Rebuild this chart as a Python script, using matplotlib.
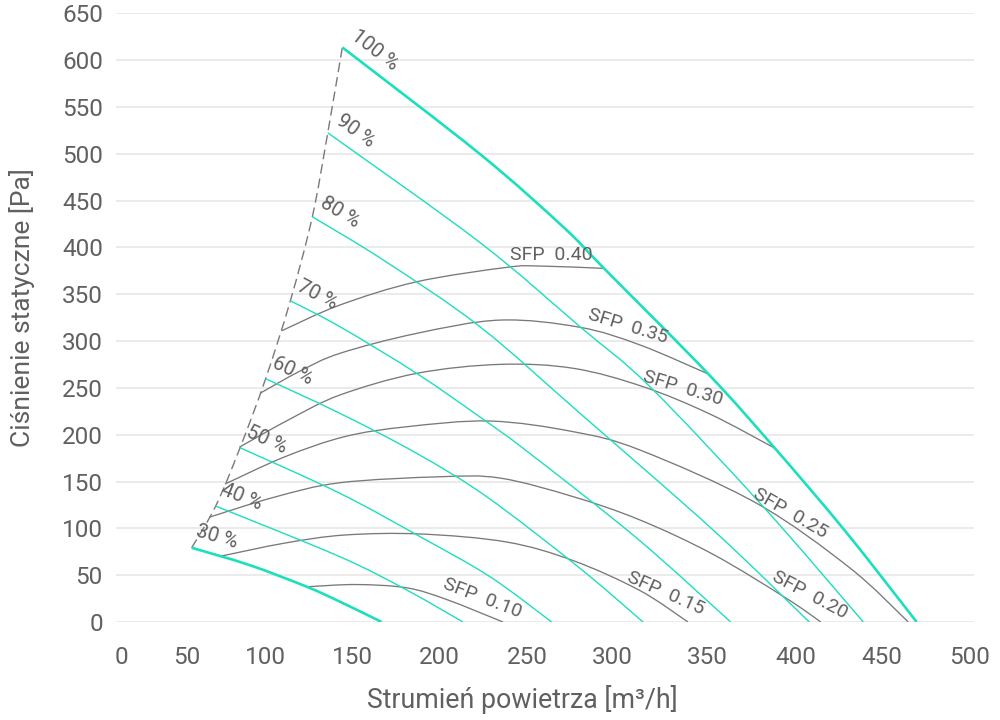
import numpy as np
import matplotlib
matplotlib.use("Agg")
import matplotlib.pyplot as plt
from matplotlib import transforms
from matplotlib.path import Path
from matplotlib.patches import PathPatch

plt.rcParams['font.family'] = ['Roboto', 'DejaVu Sans']
plt.rcParams['lines.scale_dashes'] = False

# ---------------- data ----------------
x_ticks = [0, 50, 100, 150, 200, 250, 300, 350, 400, 450, 500]
y_ticks = [0, 50, 100, 150, 200, 250, 300, 350, 400, 450, 500, 550, 600, 650]

fan_labels = ["30 %", "40 %", "50 %", "60 %", "70 %", "80 %", "90 %", "100 %"]

fan30_q = [44.1, 78.1, 111.1, 130.5, 154.8]
fan30_p = [79.3, 60.6, 37.7, 21.7, 0]
fan40_q = [58.1, 130.5, 169.4, 202.2]
fan40_p = [123.8, 69.7, 34.2, 0]
fan50_q = [72.3, 130.5, 177.2, 217.9, 253.9]
fan50_p = [186.1, 137.4, 91.1, 48.4, 0]
fan60_q = [87.2, 130.5, 175.2, 216.0, 270.4, 307.1]
fan60_p = [259.8, 222.8, 180.1, 133.8, 57.3, 0]
fan70_q = [101.6, 130.5, 175.2, 212.1, 239.3, 303.4, 358.2]
fan70_p = [343.0, 315.3, 265.5, 218.9, 182.6, 89.7, 0]
fan80_q = [114.4, 155.8, 212.1, 270.4, 348.0, 404.0]
fan80_p = [432.7, 386.5, 315.3, 222.8, 98.2, 0]
fan90_q = [123.4, 212.1, 270.4, 311.2, 377.2, 435.5]
fan90_p = [522.4, 405.2, 315.3, 251.2, 123.1, 0]
fan100_q = [131.9, 212.1, 260.7, 284.4, 345.2, 384.0, 425.4, 466.6]
fan100_p = [613.6, 499.7, 421.7, 377.6, 264.8, 185.5, 96.1, 0]

sfp_labels = ["SFP  0.10", "SFP  0.15", "SFP  0.20", "SFP  0.25",
              "SFP  0.30", "SFP  0.35", "SFP  0.40"]

sfp010_q = [112.1, 140.0, 169.4, 192.7, 225.5]
sfp010_p = [37.7, 40.0, 36.5, 24.0, 0]
sfp015_q = [61.6, 98.5, 133.4, 177.2, 227.7, 266.5, 305.4, 333.3]
sfp015_p = [70.5, 84.3, 92.9, 94.0, 85.4, 65.5, 33.5, 0]
sfp020_q = [54.2, 92.7, 130.5, 188.8, 223.8, 266.5, 305.4, 347.9, 390.8, 410.7]
sfp020_p = [111.8, 133.5, 148.7, 155.1, 153.7, 133.8, 108.9, 72.3, 25.1, 0]
sfp025_q = [63.5, 98.5, 133.4, 169.4, 217.9, 266.5, 305.4, 373.4, 427.7, 461.7]
sfp025_p = [147.3, 176.5, 198.0, 208.5, 214.6, 203.2, 183.6, 126.7, 57.7, 0]
sfp030_q = [72.0, 101.4, 130.5, 175.2, 223.8, 266.5, 307.3, 346.2, 384.0]
sfp030_p = [186.8, 216.7, 242.4, 265.5, 275.1, 270.9, 251.2, 222.0, 185.5]
sfp035_q = [83.9, 107.2, 130.5, 175.2, 223.8, 270.4, 305.4, 345.2]
sfp035_p = [244.2, 267.9, 286.9, 308.2, 322.4, 314.7, 295.8, 264.8]
sfp040_q = [96.6, 130.5, 175.2, 227.7, 247.1, 284.4]
sfp040_p = [311.0, 338.5, 363.3, 378.7, 380.1, 377.6]

# label anchor points (data units) and text angles for SFP labels
sfp_label_q = [213.6, 320.5, 404.4, 392.8, 330.4, 298.5, 253.9]
sfp_label_p = [25.6, 31.0, 28.8, 116.4, 249.8, 315.3, 392.4]
sfp_label_rot = [-21, -24, -28, -30, -17, -17, 0]

# ---------------- style ----------------
TEAL = '#1cdfbb'
GRAY = '#797979'
TEXT = '#606060'
GRID = '#e9e9e9'


def smooth_path(q, p):
    """Catmull-Rom spline through the points, rendered as cubic Bezier path."""
    pts = np.column_stack([q, p]).astype(float)
    ext = np.vstack([pts[0], pts, pts[-1]])
    verts = [pts[0]]
    codes = [Path.MOVETO]
    for i in range(1, len(ext) - 2):
        p0, p1, p2, p3 = ext[i - 1], ext[i], ext[i + 1], ext[i + 2]
        verts += [p1 + (p2 - p0) / 6.0, p2 - (p3 - p1) / 6.0, p2]
        codes += [Path.CURVE4] * 3
    return Path(np.array(verts), codes)


def draw_curve(ax, q, p, **kw):
    patch = PathPatch(smooth_path(q, p), fill=False, capstyle='butt', **kw)
    ax.add_patch(patch)
    return patch


fig = plt.figure(figsize=(10, 7.2), dpi=100)
ax = fig.add_axes([0.116, 98 / 720, 0.858, 608.7 / 720])
ax.set_xlim(0, 500)
ax.set_ylim(0, 650)
for s in ax.spines.values():
    s.set_visible(False)
ax.set_xticks(x_ticks)
ax.set_yticks(y_ticks)
ax.tick_params(axis='both', length=0)
ax.tick_params(axis='y', labelsize=17.5, labelcolor=TEXT, pad=9.5)
ax.tick_params(axis='x', labelbottom=False)
ax.grid(axis='y', color=GRID, lw=1.3)
ax.grid(axis='x', visible=False)
ax.set_axisbelow(True)

# x tick labels (spread as in the reference)
xlab_shift_px = [5, -15, -22, -21, -20, -18, -18, -9, -7, -6, -4]
for v, dx in zip(x_ticks, xlab_shift_px):
    tr = ax.get_xaxis_transform() + transforms.ScaledTranslation(dx / 100, -42 / 100, fig.dpi_scale_trans)
    ax.text(v, 0, str(v), transform=tr, ha='center', va='baseline',
            fontsize=17.5, color=TEXT)

fig.text(0.022, 1 - 308 / 720, 'Ciśnienie statyczne [Pa]', rotation=90,
         ha='center', va='center', fontsize=19, color=TEXT)
fig.text(0.522, 1 - 700 / 720, 'Strumień powietrza [m³/h]',
         ha='center', va='center', fontsize=19.3, color=TEXT)

# SFP curves
sfps = [(sfp010_q, sfp010_p), (sfp015_q, sfp015_p), (sfp020_q, sfp020_p),
        (sfp025_q, sfp025_p), (sfp030_q, sfp030_p), (sfp035_q, sfp035_p),
        (sfp040_q, sfp040_p)]
for q, p in sfps:
    draw_curve(ax, q, p, edgecolor=GRAY, lw=0.95, zorder=2)
for lab, q, p, r in zip(sfp_labels, sfp_label_q, sfp_label_p, sfp_label_rot):
    ax.text(q, p, lab, rotation=r, rotation_mode='anchor', ha='center',
            va='center', fontsize=14, color=TEXT, zorder=5)

# fan curves
fans = [(fan30_q, fan30_p), (fan40_q, fan40_p), (fan50_q, fan50_p),
        (fan60_q, fan60_p), (fan70_q, fan70_p), (fan80_q, fan80_p),
        (fan90_q, fan90_p), (fan100_q, fan100_p)]

# dashed line through the curve starting points
draw_curve(ax, [f[0][0] for f in fans], [f[1][0] for f in fans],
           edgecolor=GRAY, lw=1.0, linestyle=(0, (7, 3.6)), zorder=2)

for i, ((q, p), lab) in enumerate(zip(fans, fan_labels)):
    thick = i in (0, len(fans) - 1)
    draw_curve(ax, q, p, edgecolor=TEAL, lw=1.9 if thick else 1.0, zorder=3)
    P = ax.transData.transform(np.column_stack([q[:2], p[:2]]))
    d = P[1] - P[0]
    ang = np.degrees(np.arctan2(d[1], d[0]))
    u = d / np.linalg.norm(d)
    n = np.array([-u[1], u[0]])
    off = u * 0 + n * 18
    ax.annotate(lab, (q[0], p[0]), xytext=(off[0] * 0.72, off[1] * 0.72),
                textcoords='offset points', rotation=ang, rotation_mode='anchor',
                ha='left', va='center', fontsize=14.5, color=TEXT, zorder=5)

fig.savefig('out.png', dpi=100)
